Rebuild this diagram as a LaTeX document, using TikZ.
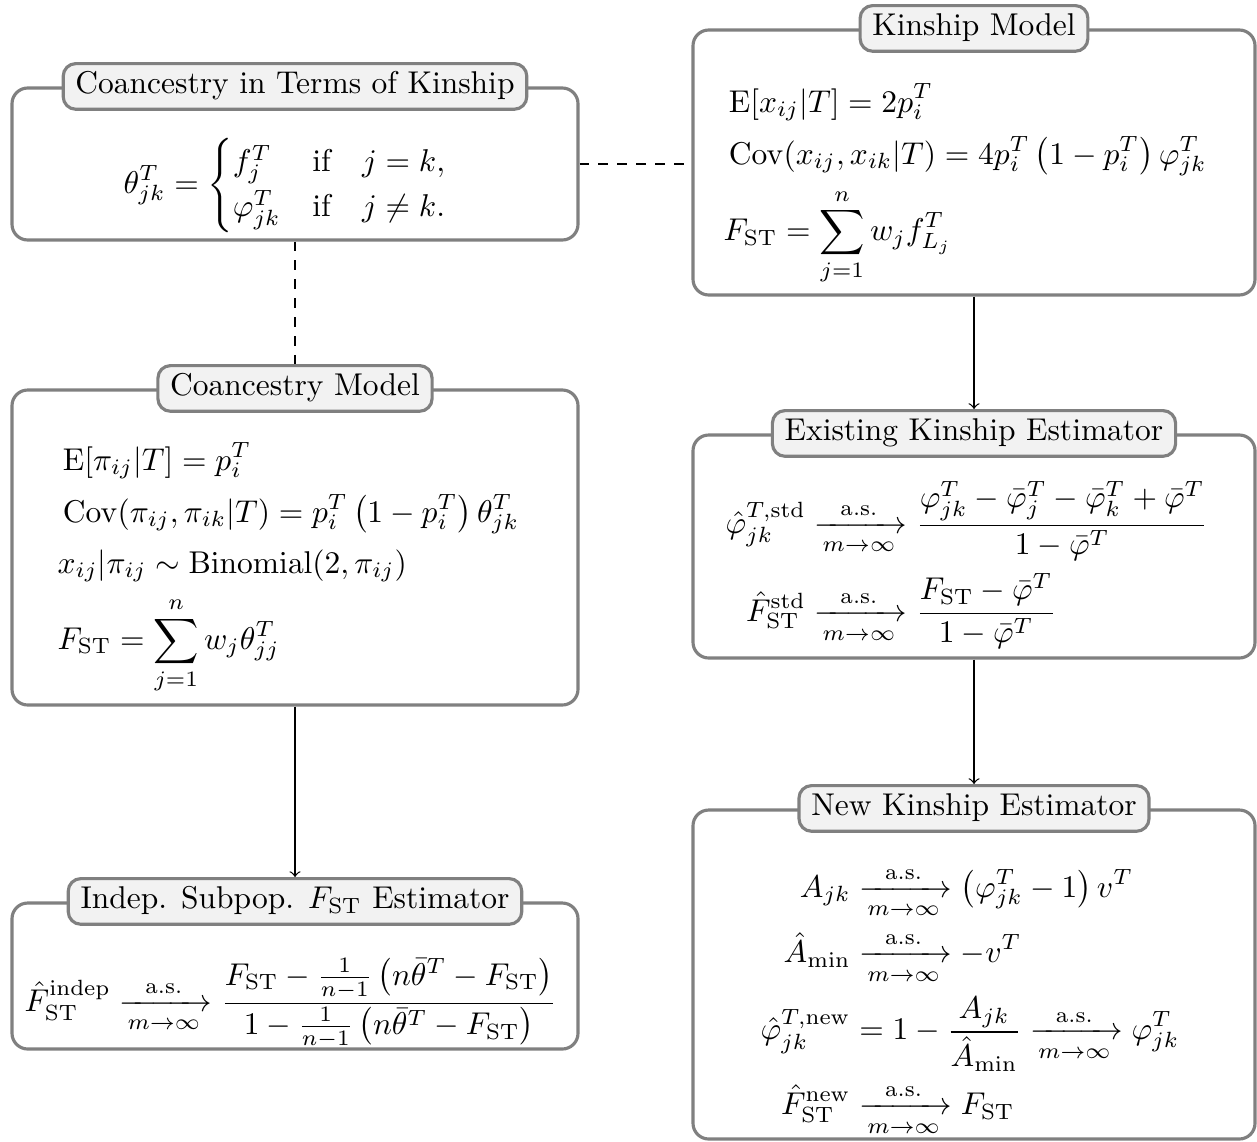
\documentclass[tikz,border=0pt]{standalone}
\usepackage{amsmath}
\begin{document}
\begin{tikzpicture}[x=0.3175pt,y=-0.3175pt,
  mainbox/.style={draw=gray, line width=1pt, rounded corners=5pt, fill=white, inner sep=0pt},
  titlebox/.style={draw=gray, line width=1pt, rounded corners=4pt, fill=gray!10, inner xsep=3.9pt, inner ysep=2.5pt, text height=7pt, text depth=2.5pt},
  content/.style={inner sep=0pt, anchor=base west},
  conn/.style={draw=black, line width=0.4pt},
  dconn/.style={conn, dashed},
  aconn/.style={conn, ->}
]
\useasboundingbox (0,0) rectangle (1257,1141);
% main boxes
\node[mainbox, minimum width=566*0.3175pt, minimum height=152*0.3175pt] (b1) at (295,164) {};
\node[mainbox, minimum width=562*0.3175pt, minimum height=265*0.3175pt] (b2) at (974,162.5) {};
\node[mainbox, minimum width=566*0.3175pt, minimum height=315*0.3175pt] (b3) at (295,547.5) {};
\node[mainbox, minimum width=562*0.3175pt, minimum height=223*0.3175pt] (b4) at (974,546.5) {};
\node[mainbox, minimum width=562*0.3175pt, minimum height=329*0.3175pt] (b5) at (974,974.5) {};
\node[mainbox, minimum width=566*0.3175pt, minimum height=146*0.3175pt] (b6) at (295,976) {};
% titles
\node[titlebox] (t1) at (b1.north) {Coancestry in Terms of Kinship};
\node[titlebox] (t2) at (b2.north) {Kinship Model};
\node[titlebox] (t3) at (b3.north) {Coancestry Model};
\node[titlebox] (t4) at (b4.north) {Existing Kinship Estimator};
\node[titlebox] (t5) at (b5.north) {New Kinship Estimator};
\node[titlebox] (t6) at (b6.north) {Indep. Subpop. $F_{\mathrm{ST}}$ Estimator};
% contents
\node[content] (c1) at (123,193) {\renewcommand{\arraystretch}{1.5}$\displaystyle \theta^T_{jk} = \begin{cases} f^T_j & \text{if} \quad j = k, \\ \varphi^T_{jk} & \text{if} \quad j \neq k. \end{cases}$};
\node[content] (c2) at (723,112) {$\begin{aligned}[t]
 &\operatorname{E}[x_{ij}|T] = 2p^T_i \\
 &\operatorname{Cov}(x_{ij}, x_{ik}|T) = 4p^T_i \left(1 - p^T_i\right) \varphi^T_{jk} \\
 &F_{\mathrm{ST}} = \sum_{j=1}^n w_j f^T_{L_j}
\end{aligned}$};
\node[content] (c3) at (57,470) {$\begin{aligned}[t]
 &\operatorname{E}[\pi_{ij}|T] = p^T_i \\
 &\operatorname{Cov}(\pi_{ij}, \pi_{ik}|T) = p^T_i \left(1 - p^T_i\right) \theta^T_{jk} \\
 &x_{ij}|\pi_{ij} \sim \operatorname{Binomial}(2, \pi_{ij}) \\
 &F_{\mathrm{ST}} = \sum_{j=1}^n w_j \theta^T_{jj}
\end{aligned}$};
\node[content] (c4) at (725,533) {$\begin{aligned}[t]
 \hat{\varphi}^{T,\mathrm{std}}_{jk} &\xrightarrow[m\to\infty]{\text{a.s.}} \frac{\varphi^T_{jk} - \bar{\varphi}^T_j - \bar{\varphi}^T_k + \bar{\varphi}^T}{1 - \bar{\varphi}^T} \\
 \hat{F}^{\mathrm{std}}_{\mathrm{ST}} &\xrightarrow[m\to\infty]{\text{a.s.}} \frac{F_{\mathrm{ST}} - \bar{\varphi}^T}{1 - \bar{\varphi}^T}
\end{aligned}$};
\node[content] (c5) at (760,897) {$\begin{aligned}[t]
 A_{jk} &\xrightarrow[m\to\infty]{\text{a.s.}} \left(\varphi^T_{jk} - 1\right) v^T \\
 \hat{A}_{\min} &\xrightarrow[m\to\infty]{\text{a.s.}} -v^T \\
 \hat{\varphi}^{T,\mathrm{new}}_{jk} &= 1 - \frac{A_{jk}}{\hat{A}_{\min}} \xrightarrow[m\to\infty]{\text{a.s.}} \varphi^T_{jk} \\
 \hat{F}^{\mathrm{new}}_{\mathrm{ST}} &\xrightarrow[m\to\infty]{\text{a.s.}} F_{\mathrm{ST}}
\end{aligned}$};
\node[content] (c6) at (24,1011) {$\displaystyle \hat{F}^{\mathrm{indep}}_{\mathrm{ST}} \xrightarrow[m\to\infty]{\text{a.s.}} \frac{F_{\mathrm{ST}} - \frac{1}{n-1}\left(n\bar{\theta}^T - F_{\mathrm{ST}}\right)}{1 - \frac{1}{n-1}\left(n\bar{\theta}^T - F_{\mathrm{ST}}\right)}$};
% connectors
\draw[dconn] (b1.east) -- (b1.east -| b2.west);
\draw[dconn] (b1.south) -- (t3.north);
\draw[aconn] (b2.south) -- (t4.north);
\draw[aconn] (b4.south) -- (t5.north);
\draw[aconn] (b3.south) -- (t6.north);
\end{tikzpicture}
\end{document}
